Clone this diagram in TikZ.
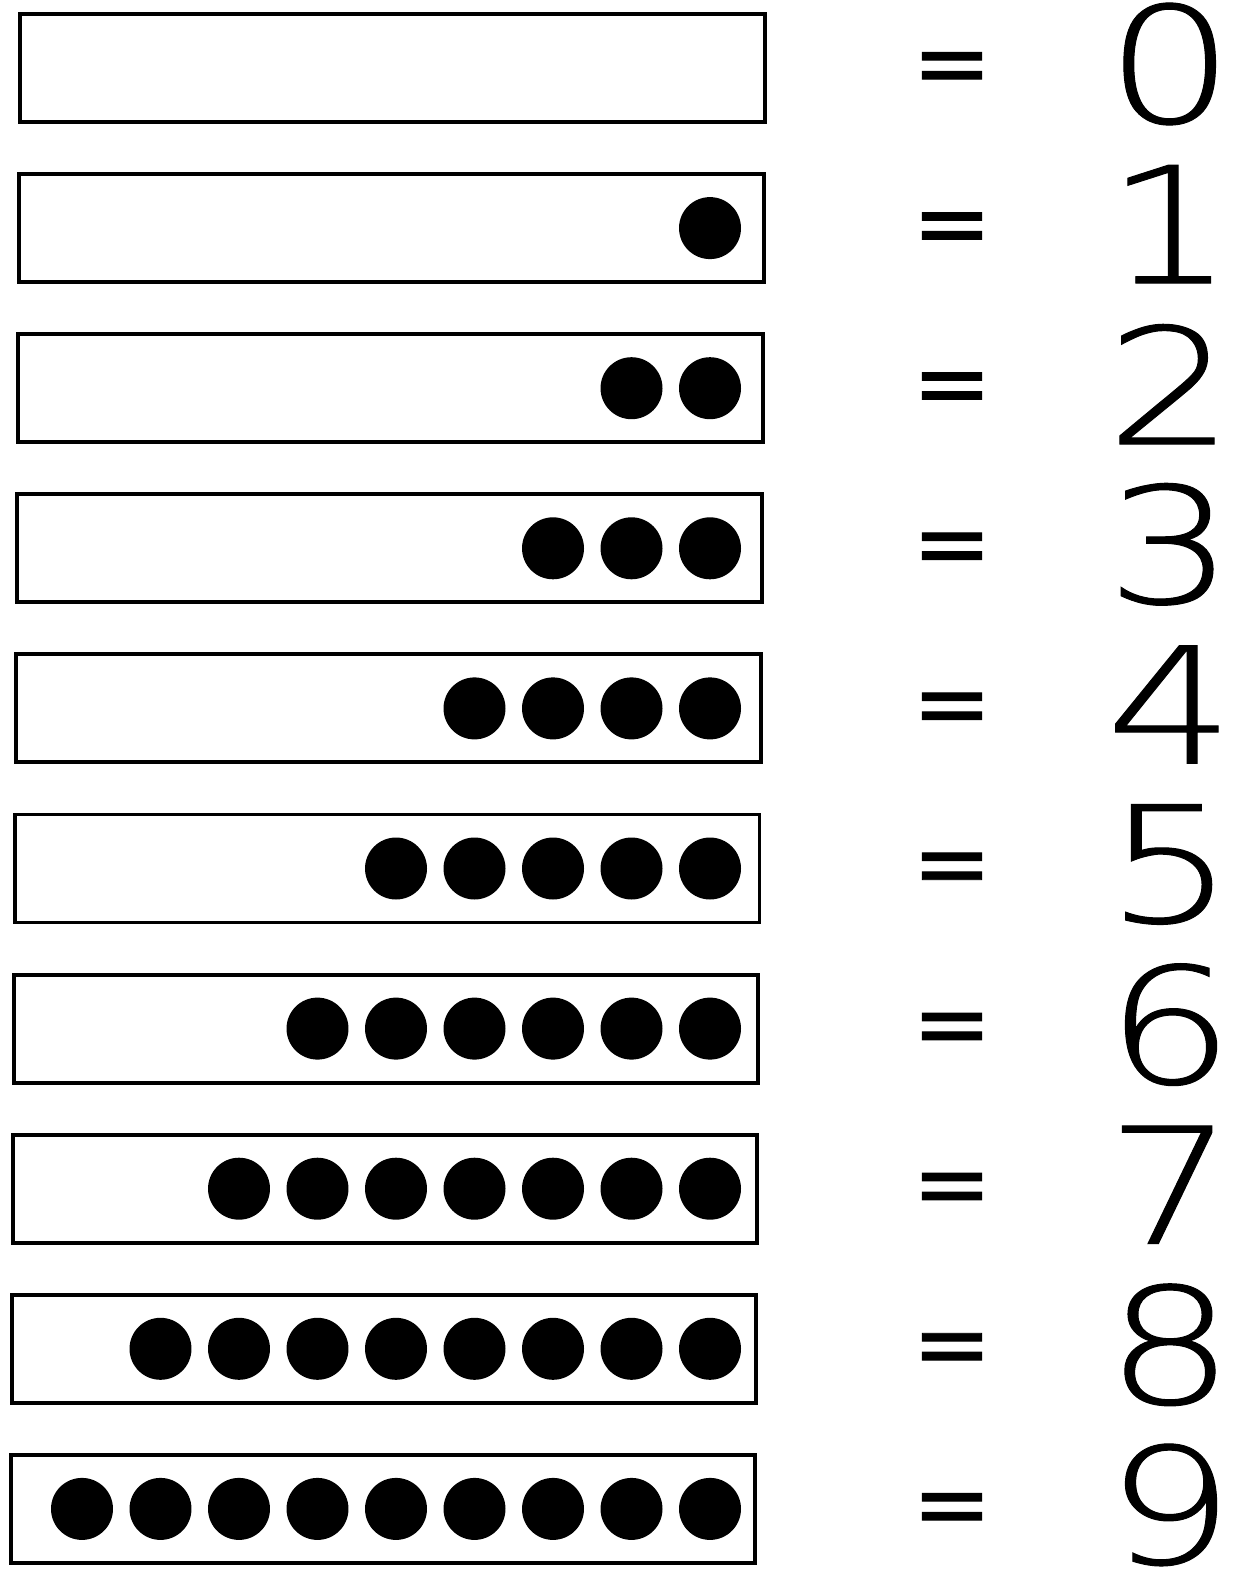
\documentclass[tikz,border=0pt]{standalone}
\usepackage{fontspec}
\newfontfamily\digitfont{DejaVu Sans ExtraLight}[FakeStretch=1.25, FakeBold=0.6]
\newfontfamily\signfont{DejaVu Sans}[FakeBold=1]

\begin{document}
\begin{tikzpicture}[x=0.02cm, y=-0.02cm,
                    tray/.style={draw, line width=2.2pt, inner sep=0pt, minimum height=2.16cm},
                    bead/.style={circle, fill, inner sep=0pt, minimum size=1.24cm},
                    equals/.style={font=\signfont\fontsize{54}{54}\selectfont, inner sep=0pt},
                    numeral/.style={font=\digitfont\fontsize{92}{92}\selectfont, inner sep=0pt}]
\useasboundingbox (0,0) rectangle (1235,1574);
\foreach \n in {0,...,9} {
  \pgfmathsetmacro{\rowy}{68+160.1*\n}
  \pgfmathsetmacro{\rowx}{392.5-1.05*\n}
  \pgfmathsetmacro{\trayw}{(745-0.1*\n)*0.02}
  \node[tray, minimum width=\trayw cm] (tray\n) at (\rowx,\rowy) {};
  \ifnum\n>0
    \foreach \k in {1,...,\n}
      \node[bead] (bead\n-\k) at ({710-78.5*(\k-1)},\rowy) {};
  \fi
  \node[equals] (eq\n) at (952,\rowy+6) {=};
  \node[numeral] (num\n) at (1170,\rowy-4) {\n};
}
\end{tikzpicture}
\end{document}
